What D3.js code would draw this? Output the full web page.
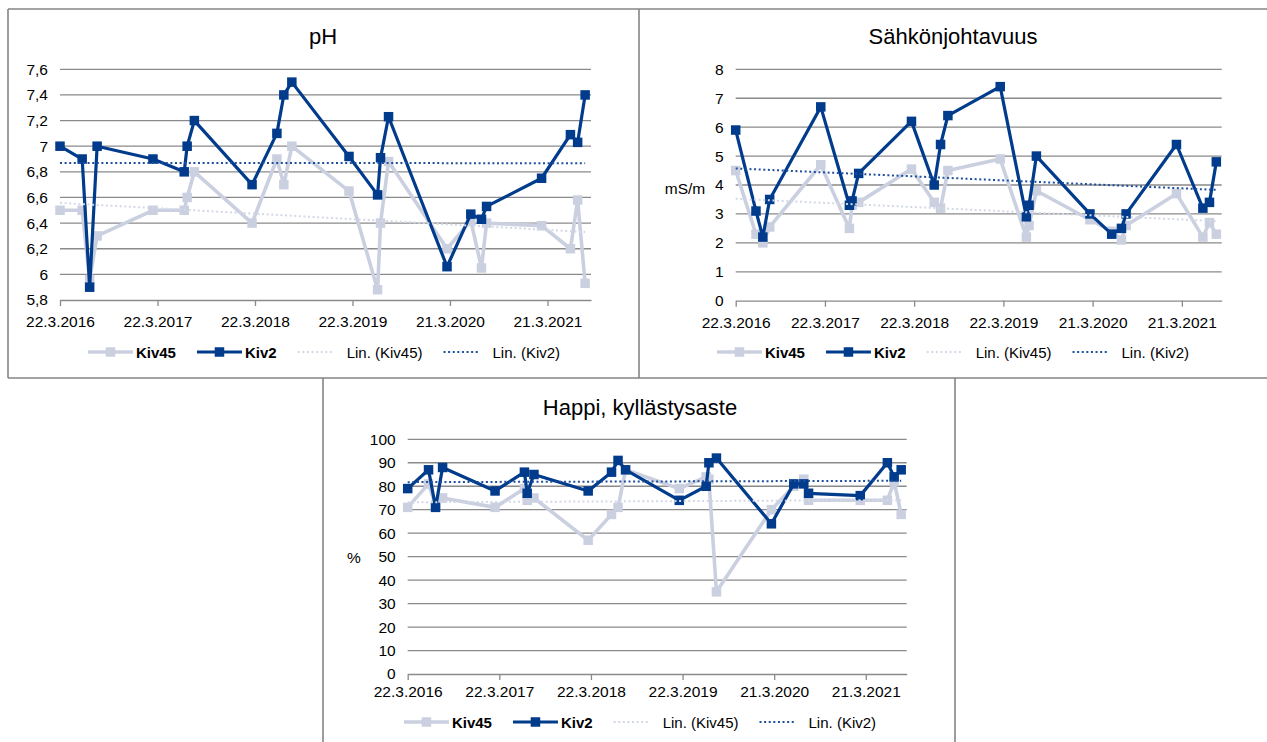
<!DOCTYPE html>
<html>
<head>
<meta charset="utf-8">
<script src="https://cdn.jsdelivr.net/npm/d3@7"></script>
<style>
  body { margin: 0; background: #fff; }
  svg { display: block; }
  text { font-family: "Liberation Sans", Arial, sans-serif; fill: #000; }
</style>
</head>
<body>
<svg id="chart" width="1267" height="742"></svg>
<script>
// Sampling dates shared by both monitoring points
const sampleDates = [
  "2016-03-22", "2016-06-13", "2016-07-11", "2016-08-08",
  "2017-03-05", "2017-06-30", "2017-07-11", "2017-08-07",
  "2018-03-11", "2018-06-12", "2018-07-08", "2018-08-07",
  "2019-03-09", "2019-06-24", "2019-07-05", "2019-08-04",
  "2020-03-10", "2020-06-07", "2020-07-17", "2020-08-05",
  "2021-02-27", "2021-06-15", "2021-07-12", "2021-08-09"
];
const axisStart = "2016-03-22";
const axisEnd = "2021-08-31";
const dateTicks = ["2016-03-22", "2017-03-22", "2018-03-22", "2019-03-22", "2020-03-21", "2021-03-21"];
const dateTickLabels = ["22.3.2016", "22.3.2017", "22.3.2018", "22.3.2019", "21.3.2020", "21.3.2021"];

const seriesNames = ["Kiv45", "Kiv2"];
const trendNames = ["Lin. (Kiv45)", "Lin. (Kiv2)"];

// pH
const phKiv45 = [6.5, 6.5, 5.96, 6.3, 6.5, 6.5, 6.6, 6.8, 6.4, 6.9, 6.7, 7.0,
                 6.65, 5.88, 6.4, 6.88, 6.2, 6.42, 6.05, 6.4, 6.38, 6.2, 6.58, 5.93];
const phKiv2 = [7.0, 6.9, 5.9, 7.0, 6.9, 6.8, 7.0, 7.2, 6.7, 7.1, 7.4, 7.5,
                6.92, 6.62, 6.91, 7.23, 6.06, 6.47, 6.43, 6.53, 6.75, 7.09, 7.03, 7.4];
const phTicks = [5.8, 6.0, 6.2, 6.4, 6.6, 6.8, 7.0, 7.2, 7.4, 7.6];
const phTickLabels = ["5,8", "6", "6,2", "6,4", "6,6", "6,8", "7", "7,2", "7,4", "7,6"];

// Electrical conductivity, mS/m
const ecKiv45 = [4.5, 2.3, 2.0, 2.55, 4.7, 2.5, 3.3, 3.4, 4.55, 3.4, 3.2, 4.5,
                 4.9, 2.2, 2.6, 3.8, 2.8, 2.4, 2.1, 2.6, 3.7, 2.2, 2.7, 2.3];
const ecKiv2 = [5.9, 3.1, 2.2, 3.5, 6.7, 3.3, 3.45, 4.4, 6.2, 4.0, 5.4, 6.4,
                7.4, 2.9, 3.3, 5.0, 3.0, 2.3, 2.5, 3.0, 5.4, 3.2, 3.4, 4.8];
const ecTicks = [0, 1, 2, 3, 4, 5, 6, 7, 8];
const ecTickLabels = ["0", "1", "2", "3", "4", "5", "6", "7", "8"];

// Dissolved oxygen saturation, %
const o2Kiv45 = [71, 81, 72, 75, 71, 79, 74, 75, 57, 68, 71, 87,
                 79, 84, 83, 35, 70, 80, 83, 74, 74, 74, 82, 68];
const o2Kiv2 = [79, 87, 71, 88, 78, 86, 77, 85, 78, 86, 91, 87,
                74, 80, 90, 92, 64, 81, 81, 77, 76, 90, 84, 87];
const o2Ticks = [0, 10, 20, 30, 40, 50, 60, 70, 80, 90, 100];
const o2TickLabels = ["0", "10", "20", "30", "40", "50", "60", "70", "80", "90", "100"];

const LIGHT = "#cbd0e1";
const DARK = "#003b8c";
const LIGHT_TREND = "#d3d8e6";
const DARK_TREND = "#1d4f9c";
const GRID = "#8a8a8a";
const FRAME = "#858585";
const FONT = '"Liberation Sans", Arial, sans-serif';

const svg = d3.select("#chart");
const parse = d3.utcParse("%Y-%m-%d");
const dates = sampleDates.map(parse);

// Panel frames
const frame = svg.append("g").attr("stroke", FRAME).attr("stroke-width", 1.6).attr("fill", "none");
frame.append("line").attr("x1", 8).attr("y1", 9).attr("x2", 1267).attr("y2", 9);
frame.append("line").attr("x1", 8).attr("y1", 9).attr("x2", 8).attr("y2", 378);
frame.append("line").attr("x1", 639).attr("y1", 9).attr("x2", 639).attr("y2", 378);
frame.append("line").attr("x1", 8).attr("y1", 378).attr("x2", 1267).attr("y2", 378);
frame.append("line").attr("x1", 323).attr("y1", 378).attr("x2", 323).attr("y2", 742);
frame.append("line").attr("x1", 955).attr("y1", 378).attr("x2", 955).attr("y2", 742);

const panels = [
  { title: "pH", kiv45: phKiv45, kiv2: phKiv2, ticks: phTicks, tickLabels: phTickLabels,
    left: 60, right: 591, top: 69.3, bottom: 300, titleX: 323, titleY: 36, datePad: 10,
    legendCx: 324, legendY: 352, unit: null },
  { title: "Sähkönjohtavuus", kiv45: ecKiv45, kiv2: ecKiv2, ticks: ecTicks, tickLabels: ecTickLabels,
    left: 735.7, right: 1221.7, top: 69.3, bottom: 300.7, titleX: 953, titleY: 36, datePad: 10,
    legendCx: 953, legendY: 352, unit: "mS/m", unitX: 685, unitY: 188 },
  { title: "Happi, kyllästysaste", kiv45: o2Kiv45, kiv2: o2Kiv2, ticks: o2Ticks, tickLabels: o2TickLabels,
    left: 407.7, right: 906.7, top: 439.3, bottom: 674, titleX: 640, titleY: 407, datePad: 6,
    legendCx: 640, legendY: 722, unit: "%", unitX: 354, unitY: 557 }
];

function linearFit(xs, ys) {
  const mx = d3.mean(xs), my = d3.mean(ys);
  let sxy = 0, sxx = 0;
  for (let i = 0; i < xs.length; i++) {
    sxy += (xs[i] - mx) * (ys[i] - my);
    sxx += (xs[i] - mx) * (xs[i] - mx);
  }
  const b = sxy / sxx;
  return x => my + b * (x - mx);
}

panels.forEach(p => {
  const g = svg.append("g");
  const x = d3.scaleUtc().domain([parse(axisStart), parse(axisEnd)]).range([p.left, p.right]);
  const y = d3.scaleLinear().domain([p.ticks[0], p.ticks[p.ticks.length - 1]]).range([p.bottom, p.top]);

  // Title
  g.append("text").attr("x", p.titleX).attr("y", p.titleY)
    .attr("text-anchor", "middle").attr("dominant-baseline", "central")
    .style("font-size", "22px").text(p.title);

  // Horizontal gridlines
  g.append("g").selectAll("line").data(p.ticks.slice(1)).join("line")
    .attr("x1", p.left).attr("x2", p.right)
    .attr("y1", d => y(d)).attr("y2", d => y(d))
    .attr("stroke", GRID).attr("stroke-width", 1.3);

  // Y tick labels
  const yAxis = d3.axisLeft(y).tickValues(p.ticks)
    .tickFormat((d, i) => p.tickLabels[i]).tickSize(0).tickPadding(12);
  const ya = g.append("g").attr("transform", `translate(${p.left},0)`).call(yAxis);
  ya.select(".domain").remove();
  ya.selectAll("text").style("font-size", "15.5px").style("font-family", FONT).attr("fill", "#000");

  // X axis with date ticks
  const tickDates = dateTicks.map(parse);
  const xAxis = d3.axisBottom(x).tickValues(tickDates)
    .tickFormat((d, i) => dateTickLabels[i]).tickSize(6).tickSizeOuter(0).tickPadding(p.datePad);
  const xa = g.append("g").attr("transform", `translate(0,${p.bottom})`).call(xAxis);
  xa.select(".domain").attr("stroke", GRID).attr("stroke-width", 1.3);
  xa.selectAll(".tick line").attr("stroke", GRID).attr("stroke-width", 1.3);
  xa.selectAll("text").style("font-size", "15.5px").style("font-family", FONT).attr("fill", "#000");

  if (p.unit) {
    g.append("text").attr("x", p.unitX).attr("y", p.unitY)
      .attr("text-anchor", "middle").attr("dominant-baseline", "central")
      .style("font-size", "15.5px").text(p.unit);
  }

  const line = d3.line().x(d => x(d[0])).y(d => y(d[1]));
  const series = [
    { vals: p.kiv45, color: LIGHT, size: 9.5, width: 3.6 },
    { vals: p.kiv2, color: DARK, size: 9.5, width: 3.2 }
  ];
  series.forEach(s => {
    const pts = dates.map((d, i) => [d, s.vals[i]]);
    g.append("path").datum(pts).attr("d", line)
      .attr("fill", "none").attr("stroke", s.color).attr("stroke-width", s.width)
      .attr("stroke-linejoin", "round");
    g.append("g").selectAll("rect").data(pts).join("rect")
      .attr("x", d => x(d[0]) - s.size / 2).attr("y", d => y(d[1]) - s.size / 2)
      .attr("width", s.size).attr("height", s.size).attr("fill", s.color);
  });

  // Linear trendlines
  const days = dates.map(d => (d - dates[0]) / 864e5);
  [{ vals: p.kiv45, color: LIGHT_TREND }, { vals: p.kiv2, color: DARK_TREND }].forEach(t => {
    const f = linearFit(days, t.vals);
    const last = days.length - 1;
    g.append("line")
      .attr("x1", x(dates[0])).attr("y1", y(f(days[0])))
      .attr("x2", x(dates[last])).attr("y2", y(f(days[last])))
      .attr("stroke", t.color).attr("stroke-width", 2).attr("stroke-dasharray", "2,2.6");
  });

  // Legend
  const lg = g.append("g");
  const items = [
    { label: seriesNames[0], kind: "line", color: LIGHT, bold: true, width: 3.6 },
    { label: seriesNames[1], kind: "line", color: DARK, bold: true, width: 3.2 },
    { label: trendNames[0], kind: "trend", color: LIGHT_TREND, bold: false },
    { label: trendNames[1], kind: "trend", color: DARK_TREND, bold: false }
  ];
  let cx = 0;
  const placed = [];
  items.forEach(it => {
    const ig = lg.append("g");
    const symW = it.kind === "line" ? 45 : 36;
    const gap = it.kind === "line" ? 3 : 13;
    if (it.kind === "line") {
      ig.append("line").attr("x1", 0).attr("x2", symW).attr("y1", 0).attr("y2", 0)
        .attr("stroke", it.color).attr("stroke-width", it.width);
      ig.append("rect").attr("x", symW / 2 - 4.75).attr("y", -4.75).attr("width", 9.5).attr("height", 9.5)
        .attr("fill", it.color);
    } else {
      ig.append("line").attr("x1", 0).attr("x2", symW).attr("y1", 0).attr("y2", 0)
        .attr("stroke", it.color).attr("stroke-width", 2).attr("stroke-dasharray", "2,2.6");
    }
    const tx = ig.append("text").attr("x", symW + gap).attr("y", 0)
      .attr("dominant-baseline", "central").style("font-size", "15px")
      .style("font-weight", it.bold ? "bold" : "normal").text(it.label);
    const w = symW + gap + tx.node().getComputedTextLength();
    placed.push({ ig, offset: cx });
    cx += w + 21;
  });
  const total = cx - 21;
  placed.forEach(pl => pl.ig.attr("transform", `translate(${p.legendCx - total / 2 + pl.offset},${p.legendY})`));
});
</script>
</body>
</html>
